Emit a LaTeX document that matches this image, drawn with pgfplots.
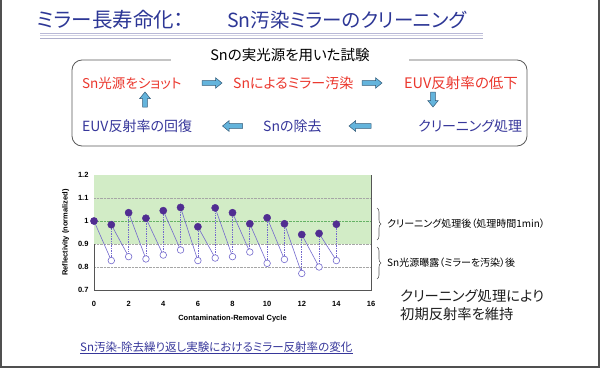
\documentclass[border=0pt]{standalone}
\usepackage{fontspec}
\setmainfont{Liberation Sans}
\newfontfamily\jp[RawFeature=+palt]{Noto Sans CJK JP}
\usepackage{pgfplots}
\pgfplotsset{compat=1.18}
\usetikzlibrary{decorations.pathreplacing}
\definecolor{titleblue}{RGB}{45,55,150}
\definecolor{myred}{RGB}{235,55,45}
\definecolor{myblue}{RGB}{55,55,155}
\definecolor{arrfill}{RGB}{100,180,220}
\definecolor{arrdraw}{RGB}{50,90,120}
\definecolor{dotfill}{RGB}{80,45,145}
\definecolor{linecol}{RGB}{115,105,205}
\definecolor{band}{RGB}{210,236,198}
\definecolor{framegray}{RGB}{80,80,80}
\newcommand\barrow[4]{% x, y, length, rotation
  \begin{scope}[shift={(#1,#2)},rotate=#4]
  \filldraw[fill=arrfill,draw=arrdraw,line width=0.5pt]
    (-#3/2,-2.3) -- (#3/2-6.5,-2.3) -- (#3/2-6.5,-5.3) -- (#3/2,0) -- (#3/2-6.5,5.3) -- (#3/2-6.5,2.3) -- (-#3/2,2.3) -- cycle;
  \end{scope}}
\begin{document}
\begin{tikzpicture}
\begin{scope}[x=1pt,y=-1pt]
\useasboundingbox (0,0) rectangle (601,369);
\fill[white] (0,0) rectangle (601,369);
% frame
\draw[framegray,line width=2pt] (1,0) -- (1,367) -- (599,367) -- (599,0);
% title
\node[anchor=west,inner sep=0,text=titleblue,font=\jp\fontsize{20.5}{24}\selectfont] at (37,20) {ミラー長寿命化：};
\node[anchor=west,inner sep=0,text=titleblue,font=\jp\fontsize{19.5}{24}\selectfont] at (227,20) {Sn汚染ミラーのクリーニング};
\draw[line width=1.2pt,color={rgb,255:red,185;green,185;blue,215}] (40,33.5) -- (483,33.5);
\draw[line width=1.0pt,color={rgb,255:red,210;green,210;blue,228}] (40,36) -- (483,36);
\draw[line width=1.2pt,color={rgb,255:red,175;green,175;blue,205}] (40,38.5) -- (483,38.5);
% box
\draw[rounded corners=10pt,color={rgb,255:red,90;green,90;blue,90},line width=0.8pt] (72,60) rectangle (527,146);
\fill[white] (171,56) rectangle (409,64);
\node[inner sep=0,font=\jp\fontsize{14.5}{16}\selectfont] at (290,55) {Snの実光源を用いた試験};
\node[anchor=west,inner sep=0,text=myred,font=\jp\fontsize{13.5}{16}\selectfont] at (82,83) {Sn光源をショット};
\node[anchor=west,inner sep=0,text=myred,font=\jp\fontsize{14}{16}\selectfont] at (233,83) {Snによるミラー汚染};
\node[anchor=west,inner sep=0,text=myred,font=\jp\fontsize{14.5}{16}\selectfont] at (404,83) {EUV反射率の低下};
\node[anchor=west,inner sep=0,text=myblue,font=\jp\fontsize{14}{16}\selectfont] at (82,126) {EUV反射率の回復};
\node[anchor=west,inner sep=0,text=myblue,font=\jp\fontsize{14}{16}\selectfont] at (263,126) {Snの除去};
\node[anchor=west,inner sep=0,text=myblue,font=\jp\fontsize{14}{16}\selectfont] at (418,126) {クリーニング処理};
\barrow{212}{83}{20}{0}
\barrow{372}{83}{20}{0}
\barrow{232.5}{126}{20}{180}
\barrow{360}{126}{22}{180}
\barrow{145}{99.5}{15}{90}
\barrow{433}{99.5}{15}{-90}
% braces
\draw[decorate,decoration={brace,amplitude=4pt},color={rgb,255:red,90;green,90;blue,90},line width=0.6pt] (377,208) -- (377,240);
\draw[decorate,decoration={brace,amplitude=4pt},color={rgb,255:red,90;green,90;blue,90},line width=0.6pt] (377,247) -- (377,279);
\node[anchor=west,inner sep=0,font=\jp\fontsize{10}{12}\selectfont] at (387,224) {クリーニング処理後（処理時間1min）};
\node[anchor=west,inner sep=0,font=\jp\fontsize{10}{12}\selectfont] at (387,263) {Sn光源曝露（ミラーを汚染）後};
\node[anchor=west,inner sep=0,font=\jp\fontsize{14.3}{16}\selectfont,text={rgb,255:red,30;green,30;blue,30}] at (400,296) {クリーニング処理により};
\node[anchor=west,inner sep=0,font=\jp\fontsize{14.3}{16}\selectfont,text={rgb,255:red,30;green,30;blue,30}] at (400,314) {初期反射率を維持};
\node[anchor=west,inner sep=0,font=\jp\fontsize{11.5}{13}\selectfont,text=myblue] (cap) at (80,347) {Sn汚染-除去繰り返し実験におけるミラー反射率の変化};
\draw[myblue,line width=0.6pt] ([yshift=-2pt]cap.base west) -- ([yshift=-2pt]cap.base east);
\end{scope}
\begin{axis}[
  at={(94pt,-290pt)}, anchor=south west,
  scale only axis, width=277pt, height=115pt,
  xmin=0, xmax=16, ymin=0.7, ymax=1.2,
  xtick={0,2,...,16}, ytick={0.7,0.8,0.9,1.0,1.1,1.2},
  ymajorgrids, grid style={densely dotted,gray!70},
  axis line style={color={rgb,255:red,85;green,85;blue,85},line width=0.8pt},
  major tick length=0pt,
  /pgf/number format/assume math mode=true,
  ticklabel style={font=\bfseries\fontsize{7.5}{9}\selectfont},
  xticklabel style={yshift=-8pt},
  yticklabel style={xshift=-2pt},
  xlabel={Contamination-Removal Cycle},
  ylabel={Reflectivity (normalized)},
  label style={font=\bfseries\fontsize{7.5}{9}\selectfont},
  xlabel style={yshift=-1pt},
  ylabel style={yshift=2pt},
  clip=false,
]
\fill[band] (axis cs:0,0.9) rectangle (axis cs:16,1.2);
\draw[densely dotted,gray!70] (axis cs:0,1.1) -- (axis cs:16,1.1);
\draw[densely dotted,green!50!black!60] (axis cs:0,1.0) -- (axis cs:16,1.0);
% solid: filled(i) -> open(i+1)
\addplot[linecol,line width=0.6pt,unbounded coords=jump,mark=none] coordinates {
(0,1.000) (1,0.828) (1,nan)
(1,0.984) (2,0.845) (2,nan)
(2,1.036) (3,0.835) (3,nan)
(3,1.012) (4,0.852) (4,nan)
(4,1.045) (5,0.874) (5,nan)
(5,1.059) (6,0.828) (6,nan)
(6,0.975) (7,0.839) (7,nan)
(7,1.057) (8,0.845) (8,nan)
(8,1.036) (9,0.865) (9,nan)
(9,0.988) (10,0.816) (10,nan)
(10,1.014) (11,0.833) (11,nan)
(11,0.988) (12,0.772) (12,nan)
(12,0.941) (13,0.800) (13,nan)
(13,0.946) (14,0.828)
};
% dotted verticals: open(i) -> filled(i)
\addplot[linecol,line width=0.7pt,densely dotted,unbounded coords=jump,mark=none] coordinates {
(1,0.828) (1,0.984) (1,nan)
(2,0.845) (2,1.036) (2,nan)
(3,0.835) (3,1.012) (3,nan)
(4,0.852) (4,1.045) (4,nan)
(5,0.874) (5,1.059) (5,nan)
(6,0.828) (6,0.975) (6,nan)
(7,0.839) (7,1.057) (7,nan)
(8,0.845) (8,1.036) (8,nan)
(9,0.865) (9,0.988) (9,nan)
(10,0.816) (10,1.014) (10,nan)
(11,0.833) (11,0.988) (11,nan)
(12,0.772) (12,0.941) (12,nan)
(13,0.800) (13,0.946) (13,nan)
(14,0.828) (14,0.986)
};
% open markers (after contamination)
\addplot[only marks,mark=*,mark size=3.3pt,mark options={fill=white,draw=linecol,line width=0.6pt}] coordinates {
(1,0.828) (2,0.845) (3,0.835) (4,0.852) (5,0.874) (6,0.828) (7,0.839)
(8,0.845) (9,0.865) (10,0.816) (11,0.833) (12,0.772) (13,0.800) (14,0.828)
};
% filled markers (after cleaning)
\addplot[only marks,mark=*,mark size=3.6pt,mark options={fill=dotfill,draw=dotfill}] coordinates {
(0,1.000) (1,0.984) (2,1.036) (3,1.012) (4,1.045) (5,1.059) (6,0.975) (7,1.057)
(8,1.036) (9,0.988) (10,1.014) (11,0.988) (12,0.941) (13,0.946) (14,0.986)
};
\end{axis}
\end{tikzpicture}
\end{document}
